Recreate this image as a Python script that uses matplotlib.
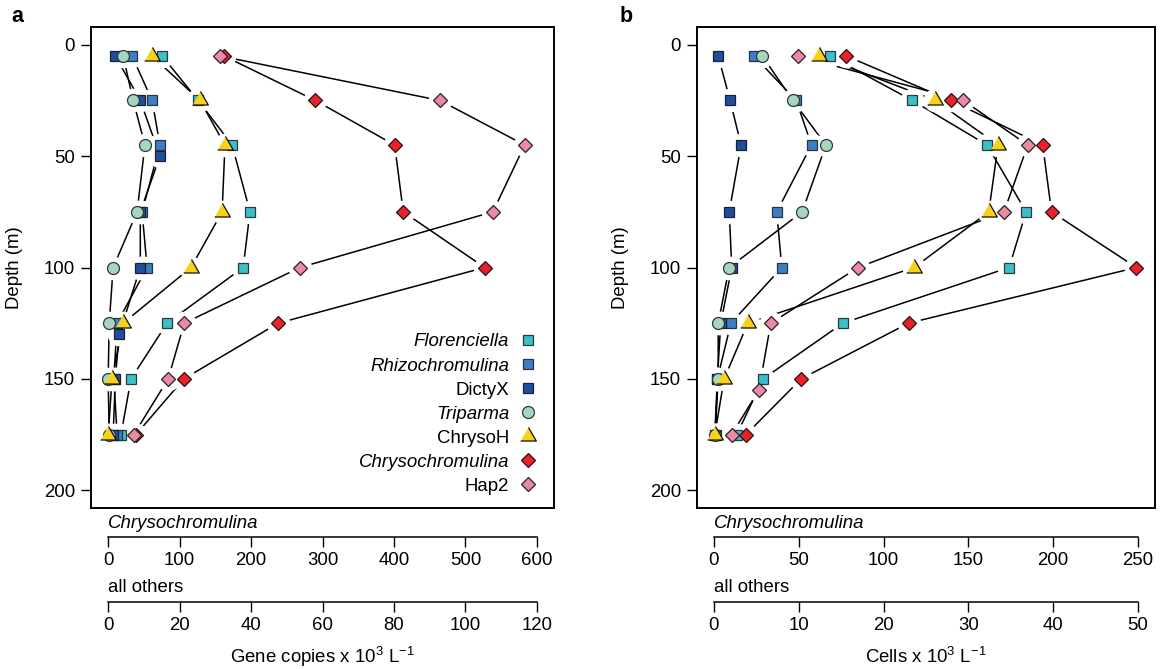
import numpy as np
import matplotlib
matplotlib.use('Agg')
import matplotlib.pyplot as plt
from matplotlib.transforms import Affine2D, blended_transform_factory
from matplotlib.lines import Line2D

plt.rcParams['font.family'] = ['Liberation Sans', 'DejaVu Sans']
plt.rcParams['mathtext.fontset'] = 'custom'
plt.rcParams['mathtext.rm'] = 'Liberation Sans'
plt.rcParams['mathtext.it'] = 'Liberation Sans:italic'
FS = 13.4

# ---------------- data ----------------
names = ['Florenciella', 'Rhizochromulina', 'DictyX', 'Triparma',
         'ChrysoH', 'Chrysochromulina', 'Hap2']
italic_names = ['Florenciella', 'Rhizochromulina', 'Triparma', 'Chrysochromulina']

depth = [5, 25, 45, 75, 100, 125, 150, 175]
depth_dictyx_a = [5, 25, 50, 75, 100, 130, 150, 175]
depth_hap2_b = [5, 25, 45, 75, 100, 125, 155, 175]

# panel a: gene copies x 10^3 L-1
a_florenciella = [15.1, 25.2, 34.7, 39.7, 37.8, 16.5, 6.4, 3.6]
a_rhizochromulina = [6.7, 12.3, 14.5, 9.5, 10.9, 2.5, 1.6, 2.5]
a_dictyx = [2.0, 9.0, 14.5, 9.0, 9.0, 3.1, 2.0, 1.4]
a_triparma = [4.2, 7.0, 10.3, 8.1, 1.4, 0.3, 0.0, 0.3]
a_chrysoh = [12.3, 25.7, 32.7, 31.9, 23.2, 4.2, 1.1, 0.0]
a_chrysochromulina = [162, 290, 401, 413, 527, 238, 106, 39]
a_hap2 = [31.3, 92.9, 116.6, 107.7, 53.7, 21.3, 16.8, 7.2]

# panel b: cells x 10^3 L-1
b_florenciella = [13.7, 23.4, 32.2, 36.8, 34.8, 15.2, 5.8, 2.7]
b_rhizochromulina = [4.7, 9.7, 11.5, 7.4, 8.0, 2.0, 0.4, 0.2]
b_dictyx = [0.5, 1.9, 3.2, 1.8, 2.1, 0.8, 0.4, 0.1]
b_triparma = [5.7, 9.3, 13.2, 10.4, 1.8, 0.5, 0.5, 0.1]
b_chrysoh = [12.4, 26.1, 33.5, 32.4, 23.6, 4.0, 1.2, 0.1]
b_chrysochromulina = [78, 139.5, 193.8, 199, 249, 114.7, 51.4, 18.9]
b_hap2 = [9.9, 29.4, 37.0, 34.2, 17.0, 6.7, 5.3, 2.1]

chryso_ratio = 5

a_chr_ticks = [0, 100, 200, 300, 400, 500, 600]
a_oth_ticks = [0, 20, 40, 60, 80, 100, 120]
b_chr_ticks = [0, 50, 100, 150, 200, 250]
b_oth_ticks = [0, 10, 20, 30, 40, 50]
depth_ticks = [0, 50, 100, 150, 200]

# ---------------- styles ----------------
tri = [(-1.0, -0.577), (1.0, -0.577), (0.0, 1.155)]
styles = {
    'Florenciella':     dict(marker='s', ms=7.7, mfc='#3DBFCA', mec='#2a3a40'),
    'Rhizochromulina':  dict(marker='s', ms=7.7, mfc='#3C7EC5', mec='#2a3340'),
    'DictyX':           dict(marker='s', ms=7.7, mfc='#1F4E9E', mec='#1a2030'),
    'Triparma':         dict(marker='o', ms=8.6, mfc='#A8D5C1', mec='#2d3a35'),
    'ChrysoH':          dict(marker=tri, ms=13.0, mfc='#F7D219', mec='#111111'),
    'Chrysochromulina': dict(marker='D', ms=7.4, mfc='#E8222B', mec='#2a1010'),
    'Hap2':             dict(marker='D', ms=7.4, mfc='#EA8AA3', mec='#2a2025'),
}

fig = plt.figure(figsize=(11.62, 6.69), dpi=100)
W, H = 1162.0, 669.0


def make_panel(box, series, xlim, chr_ticks, oth_ticks, xlabel, letter,
               letter_x, legend):
    l, r, t, b = box
    ax = fig.add_axes([l / W, 1 - b / H, (r - l) / W, (b - t) / H])
    chr_tr = Affine2D().scale(1.0 / chryso_ratio, 1.0) + ax.transData
    for i, name in enumerate(names):
        xs, ys = series[name]
        tr = chr_tr if name == 'Chrysochromulina' else ax.transData
        ax.plot(xs, ys, color='black', lw=1.1, zorder=2, transform=tr)
        ax.plot(xs, ys, ls='none', marker='o', ms=17, mfc='white', mec='none',
                zorder=3, transform=tr)
        ax.plot(xs, ys, ls='none', mew=0.9, zorder=4 + i, transform=tr,
                **styles[name])
    ax.set_xlim(*xlim)
    ax.set_ylim(208, -8)
    ax.set_yticks(depth_ticks)
    ax.tick_params(axis='y', length=7.5, width=1.0, labelsize=FS, pad=4,
                   direction='out')
    ax.tick_params(axis='x', bottom=False, labelbottom=False)
    for s in ax.spines.values():
        s.set_linewidth(1.4)
    ax.set_ylabel('Depth (m)', fontsize=FS)
    ax.yaxis.set_label_coords(-68.0 / (r - l), 0.5)

    ph = b - t
    y1 = -(537 - b) / ph
    y2 = -(602 - b) / ph
    sec1 = ax.secondary_xaxis(y1, functions=(lambda x: x * chryso_ratio,
                                             lambda x: x / chryso_ratio))
    sec1.set_xticks(chr_ticks)
    sec1.spines['bottom'].set_bounds(chr_ticks[0], chr_ticks[-1])
    sec2 = ax.secondary_xaxis(y2)
    sec2.set_xticks(oth_ticks)
    sec2.spines['bottom'].set_bounds(oth_ticks[0], oth_ticks[-1])
    for sec in (sec1, sec2):
        sec.spines['bottom'].set_linewidth(1.1)
        sec.tick_params(axis='x', length=7.5, width=1.0, labelsize=FS, pad=3)

    btr = blended_transform_factory(ax.transData, ax.transAxes)
    ax.text(0, -(523 - b) / ph, 'Chrysochromulina', style='italic', fontsize=FS,
            ha='left', va='center', transform=btr)
    ax.text(0, -(587 - b) / ph, 'all others', fontsize=FS,
            ha='left', va='center', transform=btr)
    ax.text(oth_ticks[-1] / 2, -(657 - b) / ph, xlabel, fontsize=FS,
            ha='center', va='center', transform=btr)
    fig.text(letter_x / W, 1 - 17 / H, letter, fontsize=15.5, fontweight='bold',
             ha='center', va='center')

    if legend:
        handles = [Line2D([], [], ls='none', mew=0.9, **styles[n]) for n in names]
        leg = ax.legend(handles, names, loc='lower right',
                        bbox_to_anchor=((537 - l) / (r - l), (b - 495) / ph),
                        frameon=False, markerfirst=False, fontsize=FS,
                        handlelength=1.0, handletextpad=0.5, labelspacing=0.38,
                        borderaxespad=0, borderpad=0)
        for txt in leg.get_texts():
            if txt.get_text() in italic_names:
                txt.set_style('italic')
    return ax


series_a = {
    'Florenciella': (a_florenciella, depth),
    'Rhizochromulina': (a_rhizochromulina, depth),
    'DictyX': (a_dictyx, depth_dictyx_a),
    'Triparma': (a_triparma, depth),
    'ChrysoH': (a_chrysoh, depth),
    'Chrysochromulina': (a_chrysochromulina, depth),
    'Hap2': (a_hap2, depth),
}
series_b = {
    'Florenciella': (b_florenciella, depth),
    'Rhizochromulina': (b_rhizochromulina, depth),
    'DictyX': (b_dictyx, depth),
    'Triparma': (b_triparma, depth),
    'ChrysoH': (b_chrysoh, depth),
    'Chrysochromulina': (b_chrysochromulina, depth),
    'Hap2': (b_hap2, depth_hap2_b),
}

make_panel((91, 554, 27, 508), series_a, (-4.8, 124.8), a_chr_ticks, a_oth_ticks,
           'Gene copies x 10$^{3}$ L$^{-1}$', 'a', 17, True)
make_panel((697, 1155, 27, 508), series_b, (-2.0, 52.0), b_chr_ticks, b_oth_ticks,
           'Cells x 10$^{3}$ L$^{-1}$', 'b', 626, False)

fig.savefig('out.png', dpi=100)
